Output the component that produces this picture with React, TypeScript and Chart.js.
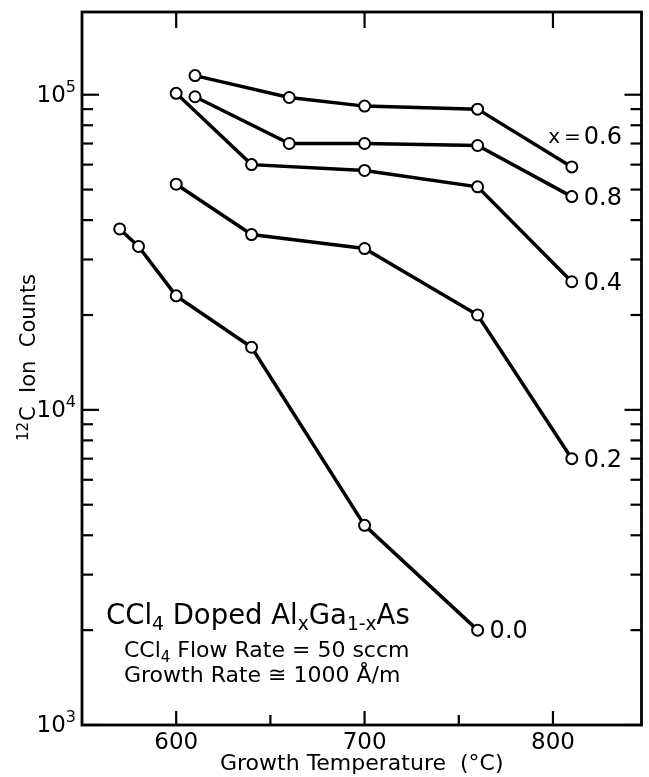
import React, { useEffect, useRef } from "react";
import { Chart, registerables } from "chart.js";

Chart.register(...registerables);

// ---- data ----
const temps06 = [610, 660, 700, 760, 810];
const counts06 = [115000, 98000, 92000, 90000, 59000];
const temps08 = [610, 660, 700, 760, 810];
const counts08 = [98500, 70000, 70000, 69000, 47500];
const temps04 = [600, 640, 700, 760, 810];
const counts04 = [101000, 60000, 57500, 51000, 25500];
const temps02 = [600, 640, 700, 760, 810];
const counts02 = [52000, 36000, 32500, 20000, 7000];
const temps00 = [570, 580, 600, 640, 700, 760];
const counts00 = [37500, 33000, 23000, 15800, 4300, 2000];

const seriesLabels = ["0.6", "0.8", "0.4", "0.2", "0.0"];
const seriesPrefix = "x\u2009=";
const xMajorTicks = [600, 700, 800];
const xMinorTicks = [650, 750];
const yDecades = [1000, 10000, 100000];
const yMinorMultipliers = [2, 3, 4, 5, 6, 7, 8, 9];
const yExponents: Record<number, string> = { 1000: "3", 10000: "4", 100000: "5" };

const xTitle = "Growth Temperature  (°C)";
const yTitleSup = "12";
const yTitleMain = "C  Ion  Counts";

const FONT = "'DejaVu Sans', sans-serif";

function pts(xs: number[], ys: number[]) {
  return xs.map((x, i) => ({ x, y: ys[i] }));
}

const framePlugin = {
  id: "frameTicks",
  afterDraw(chart: any) {
    const { ctx, chartArea: a, scales } = chart;
    const xs = scales.x;
    const ys = scales.y;
    ctx.save();
    ctx.strokeStyle = "#000";
    ctx.lineCap = "butt";
    const line = (x1: number, y1: number, x2: number, y2: number) => {
      ctx.beginPath();
      ctx.moveTo(x1, y1);
      ctx.lineTo(x2, y2);
      ctx.stroke();
    };
    ctx.lineWidth = 2.2;
    for (const d of yDecades) {
      const vals = [d, ...yMinorMultipliers.map((m) => d * m)];
      vals.forEach((v, i) => {
        if (v < ys.min || v > ys.max) return;
        const py = ys.getPixelForValue(v);
        const len = i === 0 ? 17 : 11;
        line(a.left, py, a.left + len, py);
        line(a.right, py, a.right - len, py);
      });
    }
    for (const v of xMajorTicks) {
      const px = xs.getPixelForValue(v);
      line(px, a.bottom, px, a.bottom - 14);
      line(px, a.top, px, a.top + 16);
    }
    for (const v of xMinorTicks) {
      const px = xs.getPixelForValue(v);
      line(px, a.bottom, px, a.bottom - 10);
    }
    ctx.lineWidth = 2.8;
    ctx.strokeRect(a.left, a.top, a.right - a.left, a.bottom - a.top);

    // y tick labels with real superscript exponents (positions from the y scale)
    ctx.fillStyle = "#000";
    ctx.textAlign = "left";
    ctx.textBaseline = "middle";
    for (const t of ys.ticks) {
      const v = t.value;
      const exp = yExponents[v];
      if (!exp) continue;
      const py = ys.getPixelForValue(v);
      ctx.font = `23px ${FONT}`;
      const wBase = ctx.measureText("10").width;
      ctx.font = `16px ${FONT}`;
      const wExp = ctx.measureText(exp).width;
      const right = a.left - 6;
      const x0 = right - wBase - wExp;
      ctx.font = `23px ${FONT}`;
      ctx.fillText("10", x0, py + 1);
      ctx.font = `16px ${FONT}`;
      ctx.fillText(exp, x0 + wBase, py - 7);
    }

    // y title, rotated, with superscript mass number
    ctx.save();
    ctx.translate(27, 358);
    ctx.rotate(-Math.PI / 2);
    ctx.font = `15px ${FONT}`;
    const wSup = ctx.measureText(yTitleSup).width;
    ctx.font = `21px ${FONT}`;
    const wMain = ctx.measureText(yTitleMain).width;
    const sx = -(wSup + wMain) / 2;
    ctx.textBaseline = "alphabetic";
    ctx.font = `15px ${FONT}`;
    ctx.fillText(yTitleSup, sx, 1);
    ctx.font = `21px ${FONT}`;
    ctx.fillText(yTitleMain, sx + wSup + 1, 8);
    ctx.restore();

    ctx.restore();
  },
};

type Run = [string, "n" | "sub"];

function drawRuns(ctx: CanvasRenderingContext2D, x: number, y: number, runs: Run[], size: number) {
  let cx = x;
  for (const [t, kind] of runs) {
    const s = kind === "sub" ? size * 0.68 : size;
    ctx.font = `${s}px ${FONT}`;
    const dy = kind === "sub" ? size * 0.22 : 0;
    ctx.fillText(t, cx, y + dy);
    cx += ctx.measureText(t).width;
  }
}

const textPlugin = {
  id: "annotText",
  afterDraw(chart: any) {
    const { ctx } = chart;
    ctx.save();
    ctx.fillStyle = "#000";
    ctx.textBaseline = "alphabetic";
    ctx.textAlign = "left";
    drawRuns(ctx, 106, 624, [["CCl", "n"], ["4", "sub"], [" Doped Al", "n"], ["x", "sub"], ["Ga", "n"], ["1-x", "sub"], ["As", "n"]], 27.5);
    drawRuns(ctx, 124, 657, [["CCl", "n"], ["4", "sub"], [" Flow Rate = 50 sccm", "n"]], 22);
    drawRuns(ctx, 124, 682, [["Growth Rate ≅ 1000 Å/m", "n"]], 22);

    // series labels next to last points
    ctx.textBaseline = "middle";
    chart.data.datasets.forEach((ds: any, i: number) => {
      const meta = chart.getDatasetMeta(i);
      const last = meta.data[meta.data.length - 1];
      if (!last) return;
      const lx = last.x + 12;
      ctx.font = `24px ${FONT}`;
      if (i === 0) {
        const ly = last.y - 29;
        ctx.textAlign = "left";
        ctx.fillText(seriesLabels[i], lx, ly);
        ctx.font = `20px ${FONT}`;
        ctx.textAlign = "right";
        ctx.fillText(seriesPrefix, lx - 3, ly);
        ctx.textAlign = "left";
      } else {
        ctx.fillText(seriesLabels[i], lx, last.y + 2);
      }
    });
    ctx.restore();
  },
};

export default function App() {
  const ref = useRef<HTMLCanvasElement | null>(null);
  useEffect(() => {
    if (!ref.current) return;
    const common = {
      borderColor: "#000",
      borderWidth: 3.5,
      pointRadius: 5.5,
      pointBorderWidth: 2,
      pointBackgroundColor: "#fff",
      pointBorderColor: "#000",
      fill: false,
      tension: 0,
    };
    const chart = new Chart(ref.current, {
      type: "line",
      data: {
        datasets: [
          { ...common, label: "x = " + seriesLabels[0], data: pts(temps06, counts06) },
          { ...common, label: seriesLabels[1], data: pts(temps08, counts08) },
          { ...common, label: seriesLabels[2], data: pts(temps04, counts04) },
          { ...common, label: seriesLabels[3], data: pts(temps02, counts02) },
          { ...common, label: seriesLabels[4], data: pts(temps00, counts00) },
        ],
      },
      options: {
        animation: false,
        responsive: false,
        devicePixelRatio: 1,
        layout: { padding: { top: 12, right: 4, left: 0, bottom: 0 } },
        plugins: { legend: { display: false }, tooltip: { enabled: false } },
        scales: {
          x: {
            type: "linear",
            min: 550,
            max: 847,
            grid: { display: false, drawTicks: false },
            border: { display: false },
            afterBuildTicks: (s: any) => {
              s.ticks = xMajorTicks.map((v) => ({ value: v }));
            },
            afterFit: (s: any) => {
              s.height = 52;
              s.paddingLeft = 0;
              s.paddingRight = 0;
            },
            ticks: {
              color: "#000",
              font: { family: FONT, size: 23 },
              padding: 4,
              maxRotation: 0,
              callback: (v: any) => String(v),
            },
            title: {
              display: true,
              text: xTitle,
              color: "#000",
              font: { family: FONT, size: 22 },
              padding: { top: 0, bottom: 0 },
            },
          },
          y: {
            type: "logarithmic",
            min: 1000,
            max: 183000,
            grid: { display: false, drawTicks: false },
            border: { display: false },
            afterBuildTicks: (s: any) => {
              s.ticks = yDecades.map((v) => ({ value: v }));
            },
            afterFit: (s: any) => {
              s.width = 82;
              s.paddingTop = 0;
              s.paddingBottom = 0;
            },
            ticks: { display: false },
            title: { display: false },
          },
        },
      },
      plugins: [framePlugin, textPlugin],
    } as any);
    return () => chart.destroy();
  }, []);
  return (
    <div style={{ position: "absolute", left: 0, top: 0, width: 649, height: 777, background: "#fff" }}>
      <canvas ref={ref} width={649} height={777} style={{ display: "block", width: 649, height: 777 }} />
    </div>
  );
}
